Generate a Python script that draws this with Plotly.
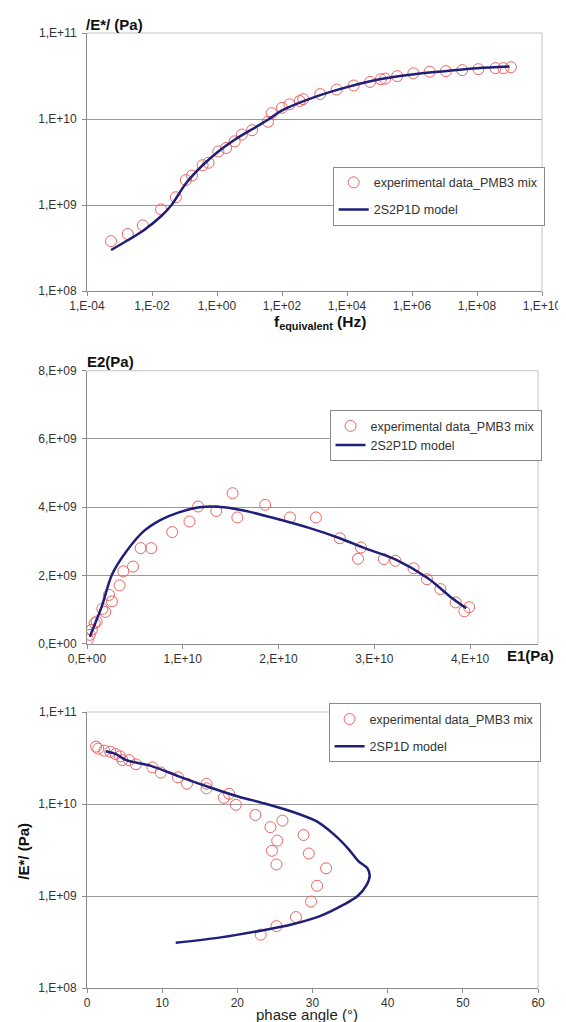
import plotly.graph_objects as go

# Panel 1: master curve |E*| vs equivalent frequency
freq_exp = [5.5e-4, 1.8e-3, 5.2e-3, 1.9e-2, 5.4e-2, 0.11, 0.17, 0.36, 0.55, 1.1, 1.9, 3.5,
            5.8, 12, 37, 48, 100, 170, 350, 450, 1.5e3, 4.8e3, 1.6e4, 5.1e4, 1.1e5, 1.5e5,
            3.5e5, 1.1e6, 3.5e6, 1.1e7, 3.5e7, 1.1e8, 3.7e8, 6.5e8, 1.1e9]
modulus_exp = [3.8e8, 4.6e8, 5.8e8, 8.9e8, 1.23e9, 1.95e9, 2.2e9, 2.9e9, 3.1e9, 4.2e9, 4.6e9,
               5.5e9, 6.6e9, 7.4e9, 9.3e9, 1.17e10, 1.35e10, 1.48e10, 1.62e10, 1.7e10, 1.95e10,
               2.2e10, 2.45e10, 2.7e10, 2.9e10, 2.95e10, 3.15e10, 3.4e10, 3.55e10, 3.6e10,
               3.7e10, 3.8e10, 3.9e10, 3.9e10, 4.0e10]
freq_model = [5.5e-4, 1.8e-3, 5.2e-3, 1.9e-2, 4.0e-2, 0.11, 0.36, 1.1, 3.5, 12, 37, 100,
              1e3, 1e4, 1e5, 1e6, 1e7, 1e8, 1e9]
modulus_model = [3.0e8, 3.9e8, 5.0e8, 7.4e8, 1.0e9, 1.78e9, 2.9e9, 4.2e9, 5.75e9, 7.6e9, 9.8e9,
                 1.26e10, 1.8e10, 2.35e10, 2.9e10, 3.3e10, 3.6e10, 3.9e10, 4.07e10]

# Panel 2: Cole-Cole plane
e1_exp = [0.01e10, 0.03e10, 0.05e10, 0.08e10, 0.10e10, 0.16e10, 0.19e10, 0.23e10, 0.26e10,
          0.34e10, 0.38e10, 0.48e10, 0.56e10, 0.67e10, 0.89e10, 1.07e10, 1.16e10, 1.35e10,
          1.52e10, 1.57e10, 1.86e10, 2.12e10, 2.39e10, 2.64e10, 2.86e10, 2.83e10, 3.10e10,
          3.22e10, 3.41e10, 3.55e10, 3.69e10, 3.85e10, 3.94e10, 3.99e10]
e2_exp = [0.12e9, 0.26e9, 0.41e9, 0.60e9, 0.65e9, 1.02e9, 0.93e9, 1.43e9, 1.24e9, 1.71e9,
          2.12e9, 2.26e9, 2.80e9, 2.80e9, 3.27e9, 3.58e9, 4.02e9, 3.89e9, 4.41e9, 3.70e9,
          4.07e9, 3.70e9, 3.70e9, 3.09e9, 2.82e9, 2.49e9, 2.48e9, 2.43e9, 2.21e9, 1.89e9,
          1.60e9, 1.21e9, 0.95e9, 1.07e9]
e1_model = [0.03e10, 0.05e10, 0.10e10, 0.16e10, 0.26e10, 0.41e10, 0.59e10, 0.77e10, 0.96e10,
            1.18e10, 1.43e10, 1.69e10, 1.98e10, 2.31e10, 2.64e10, 2.90e10, 3.23e10, 3.56e10,
            3.81e10, 3.96e10]
e2_model = [0.2e9, 0.35e9, 0.7e9, 1.14e9, 2.02e9, 2.70e9, 3.29e9, 3.63e9, 3.85e9, 4.0e9,
            4.0e9, 3.87e9, 3.66e9, 3.40e9, 3.09e9, 2.80e9, 2.46e9, 1.92e9, 1.34e9, 1.04e9]

# Panel 3: Black space
phase_exp = [1.2, 1.5, 2.3, 3.1, 3.8, 4.4, 4.7, 5.6, 6.5, 8.7, 9.8, 12.1, 13.3, 15.9, 15.9,
             18.2, 18.9, 19.8, 22.4, 24.4, 26.0, 28.8, 25.3, 24.6, 29.5, 25.2, 31.8, 30.6,
             29.8, 27.8, 25.2, 23.1]
modulus_black_exp = [4.2e10, 4.0e10, 3.8e10, 3.7e10, 3.5e10, 3.3e10, 3.0e10, 3.0e10, 2.7e10,
                     2.5e10, 2.2e10, 1.95e10, 1.66e10, 1.66e10, 1.48e10, 1.17e10, 1.29e10,
                     9.8e9, 7.6e9, 5.6e9, 6.6e9, 4.6e9, 4.0e9, 3.1e9, 2.9e9, 2.2e9, 2.0e9,
                     1.29e9, 8.7e8, 5.9e8, 4.7e8, 3.8e8]
phase_model = [2.5, 3.8, 5.2, 8.5, 12.2, 16.0, 20.2, 23.5, 27.2, 30.5, 32.8, 34.7, 36.1, 37.3,
               37.6, 37.2, 36.0, 34.2, 30.9, 27.2, 23.1, 17.8, 11.8]
modulus_black_model = [3.75e10, 3.5e10, 3.0e10, 2.6e10, 2.0e10, 1.55e10, 1.2e10, 1.02e10, 8.3e9,
                       6.5e9, 4.7e9, 3.3e9, 2.4e9, 2.0e9, 1.66e9, 1.32e9, 1.0e9, 8.1e8, 6.0e8,
                       4.9e8, 4.2e8, 3.55e8, 3.1e8]

# Tick labels
freq_ticks = [1e-4, 1e-2, 1, 1e2, 1e4, 1e6, 1e8, 1e10]
freq_ticktext = ["1,E-04", "1,E-02", "1,E+00", "1,E+02", "1,E+04", "1,E+06", "1,E+08", "1,E+10"]
mod_ticks = [1e8, 1e9, 1e10, 1e11]
mod_ticktext = ["1,E+08", "1,E+09", "1,E+10", "1,E+11"]
e1_ticks = [0, 1e10, 2e10, 3e10, 4e10]
e1_ticktext = ["0,E+00", "1,E+10", "2,E+10", "3,E+10", "4,E+10"]
e2_ticks = [0, 2e9, 4e9, 6e9, 8e9]
e2_ticktext = ["0,E+00", "2,E+09", "4,E+09", "6,E+09", "8,E+09"]
phase_ticks = [0, 10, 20, 30, 40, 50, 60]

FONT = "Liberation Sans, Arial, sans-serif"
MARKER_RED = "#ec6462"
LINE_NAVY = "#1f1f7a"
GRID = "#9a9a9a"
AXIS = "#8c8c8c"
BORDER = "#c4c4c4"

fig = go.Figure()


def add_panel(n, x_exp, y_exp, x_mod, y_mod, model_name):
    xa = "x" if n == 1 else f"x{n}"
    ya = "y" if n == 1 else f"y{n}"
    leg = "legend" if n == 1 else f"legend{n}"
    fig.add_trace(go.Scatter(
        x=x_exp, y=y_exp, mode="markers", name="experimental data_PMB3 mix",
        marker=dict(symbol="circle-open", size=11, color=MARKER_RED, line=dict(width=1)),
        xaxis=xa, yaxis=ya, legend=leg, legendgroup=f"e{n}",
    ))
    fig.add_trace(go.Scatter(
        x=x_mod, y=y_mod, mode="lines", name=model_name,
        line=dict(color=LINE_NAVY, width=2.5, shape="spline", smoothing=0.8),
        xaxis=xa, yaxis=ya, legend=leg, legendgroup=f"m{n}",
    ))


add_panel(1, freq_exp, modulus_exp, freq_model, modulus_model, "2S2P1D model")
add_panel(2, e1_exp, e2_exp, e1_model, e2_model, "2S2P1D model")
add_panel(3, phase_exp, modulus_black_exp, phase_model, modulus_black_model, "2SP1D model")

tick_font = dict(family=FONT, size=12, color="#333333")


def axis_style(**kw):
    base = dict(
        showline=True, linecolor=AXIS, linewidth=1, mirror=False,
        ticks="outside", ticklen=4, tickcolor=AXIS, tickfont=tick_font,
        zeroline=False, showgrid=False, fixedrange=True,
    )
    base.update(kw)
    return base


fig.update_layout(
    width=566, height=1022,
    margin=dict(l=79, r=20, t=25, b=42),
    paper_bgcolor="white", plot_bgcolor="white",
    font=dict(family=FONT, size=12, color="#222222"),
    showlegend=True,
    xaxis=axis_style(type="log", range=[-4, 10], domain=[0, 1], anchor="y",
                     tickvals=freq_ticks, ticktext=freq_ticktext),
    yaxis=axis_style(type="log", range=[8, 11], domain=[0.7298, 1.0], anchor="x",
                     tickvals=mod_ticks, ticktext=mod_ticktext, ticklabelstandoff=3,
                     showgrid=True, gridcolor=GRID, gridwidth=1),
    xaxis2=axis_style(range=[0, 4.71e10], domain=[0, 0.9914], anchor="y2",
                      tickvals=e1_ticks, ticktext=e1_ticktext),
    yaxis2=axis_style(range=[0, 8e9], domain=[0.3605, 0.6464], anchor="x2",
                      tickvals=e2_ticks, ticktext=e2_ticktext, ticklabelstandoff=3,
                      showgrid=True, gridcolor=GRID, gridwidth=1),
    xaxis3=axis_style(range=[0, 60], domain=[0, 0.9914], anchor="y3",
                      tickvals=phase_ticks),
    yaxis3=axis_style(type="log", range=[8, 11], domain=[0, 0.2890], anchor="x3",
                      tickvals=mod_ticks, ticktext=mod_ticktext, ticklabelstandoff=3,
                      showgrid=True, gridcolor=GRID, gridwidth=1),
)

legend_common = dict(
    xanchor="left", yanchor="top", bgcolor="white", bordercolor="#8a8a8a", borderwidth=1,
    font=dict(family=FONT, size=12.5, color="#333333"), itemwidth=30,
    traceorder="grouped",
)
fig.update_layout(
    legend=dict(x=0.540, y=0.860, tracegroupgap=8, **legend_common),
    legend2=dict(x=0.533, y=0.605, tracegroupgap=0, **legend_common),
    legend3=dict(x=0.531, y=0.298, tracegroupgap=8, **legend_common),
)

# Light plot-area borders (top and right)
for xd, (y0, y1) in [((0, 1), (0.7298, 1.0)), ((0, 0.9914), (0.3605, 0.6464)), ((0, 0.9914), (0, 0.2890))]:
    fig.add_shape(type="line", xref="paper", yref="paper", x0=xd[0], x1=xd[1], y0=y1, y1=y1,
                  line=dict(color=BORDER, width=1))
    fig.add_shape(type="line", xref="paper", yref="paper", x0=xd[1], x1=xd[1], y0=y0, y1=y1,
                  line=dict(color=BORDER, width=1))

bold = dict(family=FONT, size=15, color="#111111")
fig.add_annotation(text="<b>/E*/ (Pa)</b>", xref="paper", yref="paper", x=-0.006, y=1.0084,
                   xanchor="left", yanchor="middle", showarrow=False, font=bold)
fig.add_annotation(text="<b>f<sub>equivalent</sub> (Hz)</b>", xref="paper", yref="paper",
                   x=0.512, y=0.697, xanchor="center", yanchor="middle", showarrow=False,
                   font=dict(family=FONT, size=15.5, color="#111111"))
fig.add_annotation(text="<b>E2(Pa)</b>", xref="paper", yref="paper", x=-0.004, y=0.6565,
                   xanchor="left", yanchor="middle", showarrow=False, font=bold)
fig.add_annotation(text="<b>E1(Pa)</b>", xref="paper", yref="paper", x=0.9186, y=0.348,
                   xanchor="left", yanchor="middle", showarrow=False, font=bold)
fig.add_annotation(text="<b>/E*/ (Pa)</b>", xref="paper", yref="paper", x=-0.139, y=0.1435,
                   xanchor="center", yanchor="middle", textangle=-90, showarrow=False, font=bold)
fig.add_annotation(text="phase angle (°)", xref="paper", yref="paper", x=0.484, y=-0.028,
                   xanchor="center", yanchor="middle", showarrow=False,
                   font=dict(family=FONT, size=15, color="#222222"))

fig.write_html("out.html")
